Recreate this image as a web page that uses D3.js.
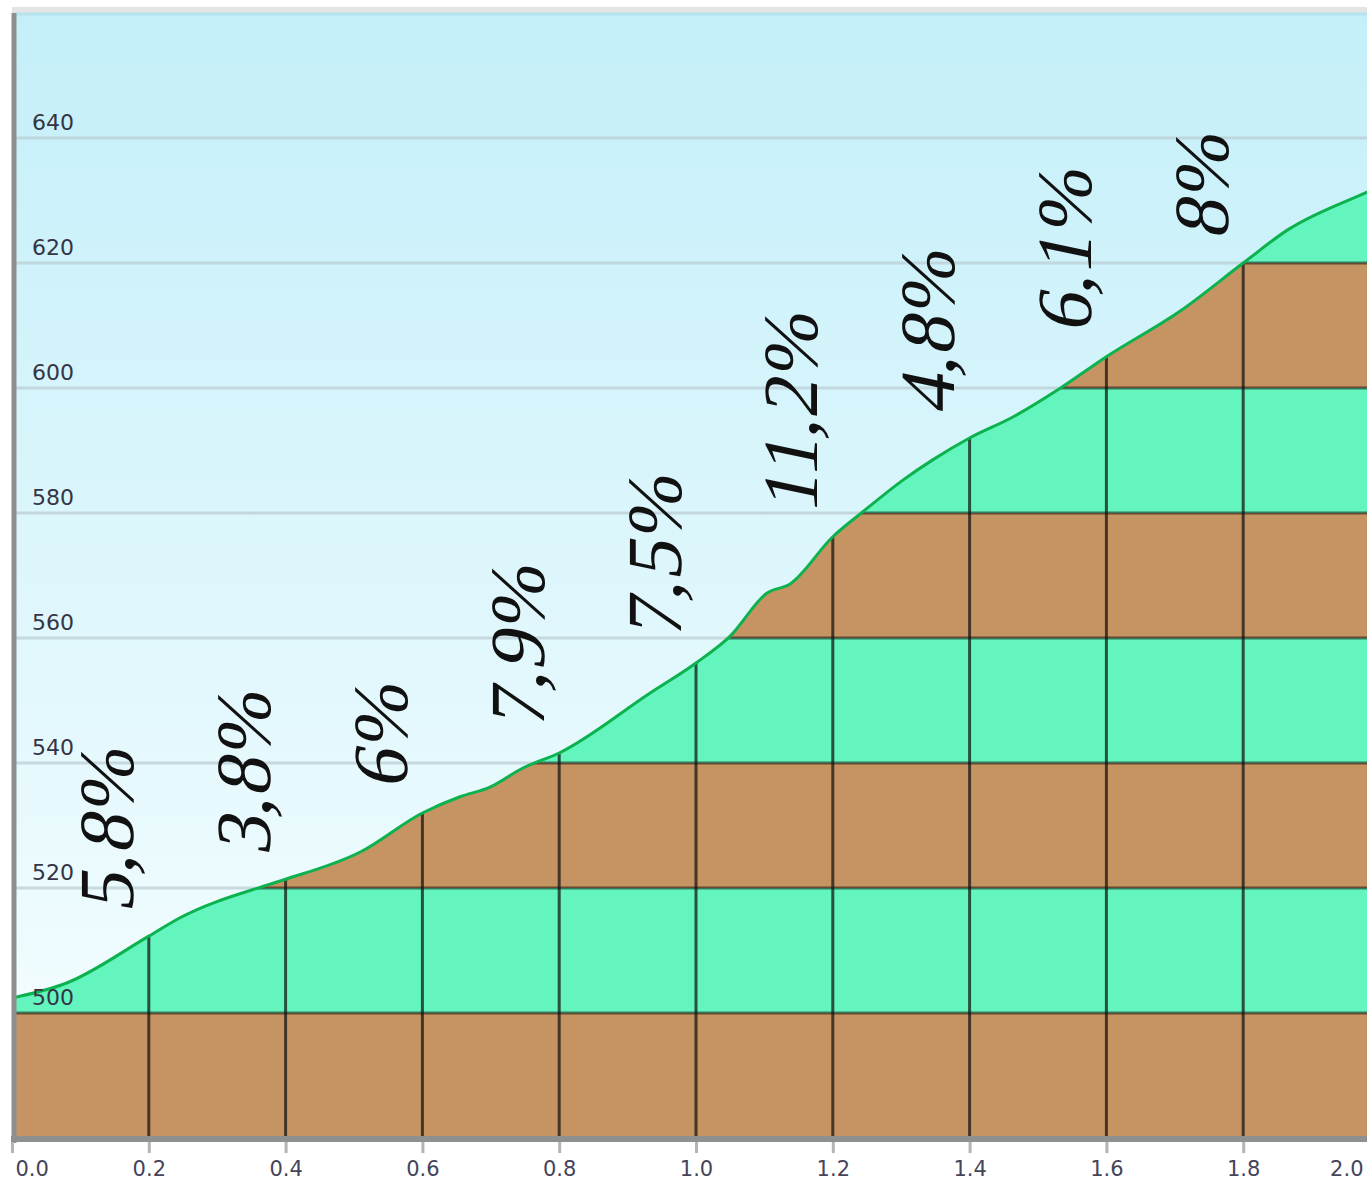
<!DOCTYPE html>
<html>
<head>
<meta charset="utf-8">
<script src="https://cdn.jsdelivr.net/npm/d3@7"></script>
<style>
  body { margin: 0; background: #fff; }
  svg { display: block; }
</style>
</head>
<body>
<svg id="chart" width="1367" height="1182"></svg>
<script>
/* global d3 */

// profile: distance (km) and elevation (m)
const profileKm = [0, 0.08, 0.2, 0.245, 0.374, 0.4, 0.51, 0.6, 0.655, 0.698, 0.747, 0.8, 0.933, 1.0, 1.05, 1.104, 1.137, 1.2, 1.244, 1.303, 1.346, 1.4, 1.464, 1.533, 1.6, 1.709, 1.8, 1.865, 1.982, 2.0]
const profileElev = [502.4, 504.8, 512.3, 515.2, 520.5, 521.4, 525.8, 532, 534.6, 536.1, 539.2, 541.6, 551.2, 556, 560.3, 567.2, 568.6, 576.2, 580.2, 585.3, 588.5, 592, 595.4, 600, 605, 612.4, 620, 625.3, 631.4, 632.3]

// slope labels, one per 200 m segment
const segmentStart = [0, 0.2, 0.4, 0.6, 0.8, 1.0, 1.2, 1.4, 1.6]
const segmentLabel = ['5,8%', '3,8%', '6%', '7,9%', '7,5%', '11,2%', '4,8%', '6,1%', '8%']

const xTicks = [0, 0.2, 0.4, 0.6, 0.8, 1.0, 1.2, 1.4, 1.6, 1.8, 2.0]
const yTicks = [500, 520, 540, 560, 580, 600, 620, 640]
const bandEdges = [480, 500, 520, 540, 560, 580, 600, 620, 640, 660]

const W = 1367
const plot = {left: 12, right: 1380, top: 13, bottom: 1138}

const x = d3.scaleLinear().domain([0, 2]).range([plot.left, plot.right])
const y = d3.scaleLinear().domain([480, 660]).range([plot.bottom, plot.top])

const profile = profileKm.map((km, i) => ({km: km, elev: profileElev[i]}))
const bisect = d3.bisector(d => d.km).left
function elevAt (km) {
  let i = bisect(profile, km)
  if (i <= 0) return profile[0].elev
  if (i >= profile.length) return profile[profile.length - 1].elev
  let a = profile[i - 1]
  let b = profile[i]
  return a.elev + (b.elev - a.elev) * (km - a.km) / (b.km - a.km)
}

const svg = d3.select('#chart')
const defs = svg.append('defs')

let grad = defs.append('linearGradient')
  .attr('id', 'sky')
  .attr('x1', 0).attr('y1', 0).attr('x2', 0).attr('y2', 1)
grad.append('stop').attr('offset', '0%').attr('stop-color', '#c4eff9')
grad.append('stop').attr('offset', '100%').attr('stop-color', '#f7feff')

const area = d3.area()
  .curve(d3.curveMonotoneX)
  .x(d => x(d.km))
  .y0(y(480))
  .y1(d => y(d.elev))

defs.append('clipPath')
  .attr('id', 'groundClip')
  .append('path')
  .attr('d', area(profile))

// top frame strip
svg.append('rect')
  .attr('x', 12)
  .attr('y', 7)
  .attr('width', W - 12)
  .attr('height', 6)
  .attr('fill', '#e4e4e4')

// sky
svg.append('rect')
  .attr('x', plot.left)
  .attr('y', plot.top)
  .attr('width', W - plot.left)
  .attr('height', plot.bottom - plot.top)
  .attr('fill', 'url(#sky)')
svg.append('line')
  .attr('x1', plot.left).attr('x2', W)
  .attr('y1', plot.top + 1).attr('y2', plot.top + 1)
  .attr('stroke', '#b6e4ee')
  .attr('stroke-width', 3)

// light grid lines
svg.append('g')
  .selectAll('line')
  .data(yTicks)
  .join('line')
  .attr('x1', plot.left)
  .attr('x2', W)
  .attr('y1', d => y(d))
  .attr('y2', d => y(d))
  .attr('stroke', '#b9ccd2')
  .attr('stroke-opacity', 0.7)
  .attr('stroke-width', 3)

// ground bands, clipped by the profile
let ground = svg.append('g').attr('clip-path', 'url(#groundClip)')
ground.selectAll('rect')
  .data(d3.pairs(bandEdges))
  .join('rect')
  .attr('x', plot.left)
  .attr('width', W - plot.left)
  .attr('y', d => y(d[1]))
  .attr('height', d => y(d[0]) - y(d[1]))
  .attr('fill', (d, i) => i % 2 === 0 ? '#c69463' : '#63f5bd')
ground.append('g')
  .selectAll('line')
  .data(yTicks)
  .join('line')
  .attr('x1', plot.left)
  .attr('x2', W)
  .attr('y1', d => y(d))
  .attr('y2', d => y(d))
  .attr('stroke', '#000')
  .attr('stroke-opacity', 0.5)
  .attr('stroke-width', 3)
ground.append('g')
  .selectAll('line')
  .data(xTicks.slice(1))
  .join('line')
  .attr('x1', d => x(d))
  .attr('x2', d => x(d))
  .attr('y1', y(480))
  .attr('y2', y(660))
  .attr('stroke', '#111')
  .attr('stroke-opacity', 0.72)
  .attr('stroke-width', 3)

// profile line
svg.append('path')
  .datum(profile)
  .attr('d', d3.line().curve(d3.curveMonotoneX).x(d => x(d.km)).y(d => y(d.elev)))
  .attr('fill', 'none')
  .attr('stroke', '#0cb24e')
  .attr('stroke-width', 3)

// y labels inside the plot
svg.append('g')
  .selectAll('text')
  .data(yTicks)
  .join('text')
  .text(d => d)
  .attr('x', 32)
  .attr('y', d => y(d) - 8)
  .style('font-family', '"DejaVu Sans", sans-serif')
  .style('font-size', '22px')
  .attr('fill', '#343446')

// axes lines
svg.append('line')
  .attr('x1', 14).attr('x2', 14)
  .attr('y1', plot.top).attr('y2', plot.bottom + 5)
  .attr('stroke', '#8c9090')
  .attr('stroke-width', 5)
svg.append('line')
  .attr('x1', 11).attr('x2', W)
  .attr('y1', plot.bottom + 1).attr('y2', plot.bottom + 1)
  .attr('stroke', '#8e9090')
  .attr('stroke-width', 6)

let xAxis = svg.append('g')
  .attr('transform', 'translate(0,' + (plot.bottom + 4) + ')')
  .call(d3.axisBottom(x).tickValues(xTicks).tickSize(11).tickPadding(8).tickFormat(d3.format('.1f')))
xAxis.select('.domain').remove()
xAxis.selectAll('.tick line')
  .attr('stroke', '#b4b4b4')
  .attr('stroke-width', 3)
xAxis.selectAll('.tick text')
  .style('font-family', '"DejaVu Sans", sans-serif')
  .style('font-size', '21px')
  .attr('fill', '#44445a')
  .each(function (d) {
    // keep the labels inside the plot width
    let w = this.getComputedTextLength()
    let cx = x(d)
    if (cx - w / 2 < 15) d3.select(this).attr('text-anchor', 'start').attr('x', 15 - cx)
    if (cx + w / 2 > W - 4) d3.select(this).attr('text-anchor', 'end').attr('x', W - 4 - cx)
  })

// slope labels
svg.append('g')
  .selectAll('text')
  .data(segmentStart)
  .join('text')
  .text((d, i) => segmentLabel[i])
  .attr('transform', d => 'translate(' + (x(d + 0.1) + 53) + ',' + (y(elevAt(d + 0.2)) - 23) + ') rotate(-90) skewX(-12)')
  .attr('text-anchor', 'start')
  .style('font-family', '"Liberation Serif", "Times New Roman", serif')
  .style('font-size', '78px')
  .attr('fill', '#111')
</script>
</body>
</html>
